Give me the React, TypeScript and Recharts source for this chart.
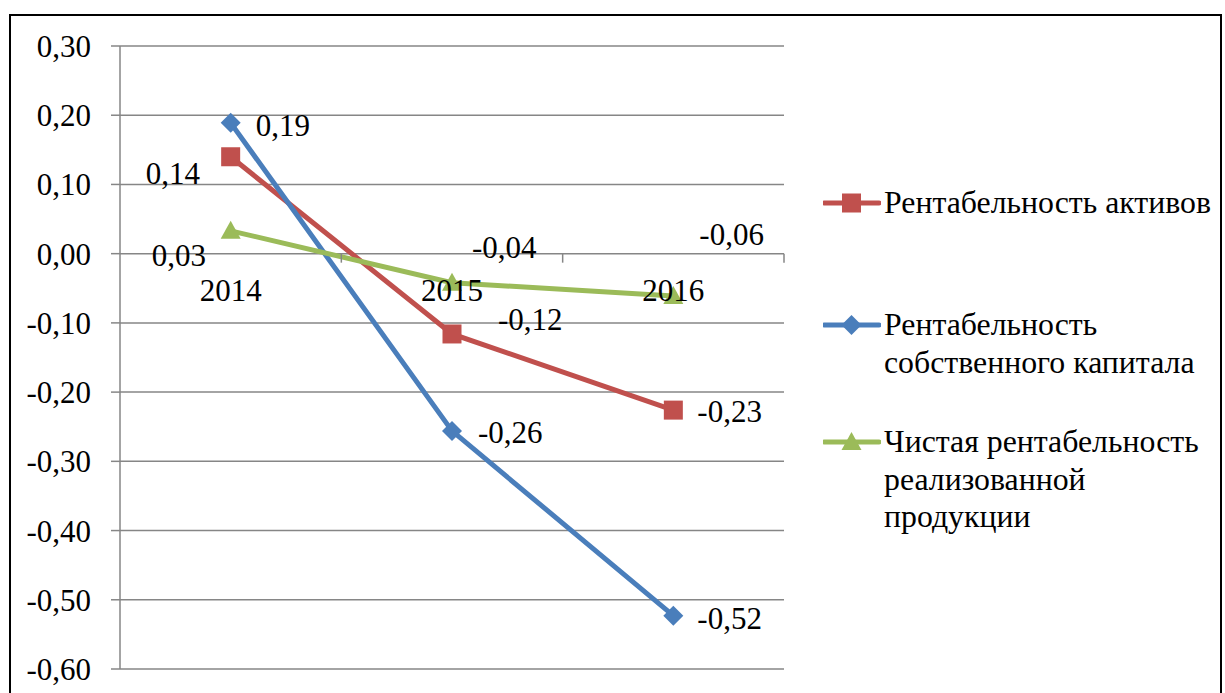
import { LineChart, Line, XAxis, YAxis, CartesianGrid, LabelList } from 'recharts';

const years = ['2014', '2015', '2016'];
const roa = [0.14, -0.116, -0.226];
const roe = [0.189, -0.256, -0.523];
const netMargin = [0.033, -0.042, -0.061];
const yTicks = [0.3, 0.2, 0.1, 0, -0.1, -0.2, -0.3, -0.4, -0.5, -0.6];
const seriesNames = [
  'Рентабельность активов',
  'Рентабельность\nсобственного капитала',
  'Чистая рентабельность\nреализованной\nпродукции',
];

const data = years.map((year, i) => ({ year, roa: roa[i], roe: roe[i], net: netMargin[i] }));

const FONT = '"Liberation Serif", serif';
const GRID = '#868686';
const RED = '#C0504D';
const BLUE = '#4A7EBB';
const GREEN = '#9BBB59';
const FS = 31;

const W = 1225;
const H = 693;
const TOP = 46;
const PLOT_BOTTOM = 669;
const LEFT = 120;
const RIGHT = 784;
const ZERO_Y = TOP + (PLOT_BOTTOM - TOP) * (0.3 / 0.9);
const BAND = (RIGHT - LEFT) / years.length;

const fmt = (v: number) => v.toFixed(2).replace('.', ',');

function Marker({ kind, cx, cy, color }: { kind: string; cx: number; cy: number; color: string }) {
  if (kind === 'square') return <rect x={cx - 9.5} y={cy - 9.5} width={19} height={19} fill={color} />;
  if (kind === 'diamond')
    return <polygon points={`${cx},${cy - 10} ${cx + 10},${cy} ${cx},${cy + 10} ${cx - 10},${cy}`} fill={color} />;
  return <polygon points={`${cx},${cy - 10} ${cx + 10},${cy + 8} ${cx - 10},${cy + 8}`} fill={color} />;
}

const dotFor = (kind: string, color: string) => (p: any) =>
  <Marker key={`${kind}-${p.index}`} kind={kind} cx={p.cx} cy={p.cy} color={color} />;

const labelFor = (shifts: number[][]) => (p: any) => {
  const [dx, dy] = shifts[p.index] || [0, 0];
  return (
    <text x={p.x + dx} y={p.y + dy} fontSize={FS} fontFamily={FONT} fill="#000" dominantBaseline="central">
      {fmt(Number(p.value))}
    </text>
  );
};

function CategoryTick(props: any) {
  const { x, payload } = props;
  return (
    <g>
      <line x1={x + BAND / 2} x2={x + BAND / 2} y1={ZERO_Y} y2={ZERO_Y + 9} stroke={GRID} strokeWidth={1.5} />
      <text x={x} y={ZERO_Y + 47} textAnchor="middle" fontSize={FS} fontFamily={FONT} fill="#000">
        {payload.value}
      </text>
    </g>
  );
}

const legendItems = [
  { name: seriesNames[0], color: RED, kind: 'square', top: 184 },
  { name: seriesNames[1], color: BLUE, kind: 'diamond', top: 306 },
  { name: seriesNames[2], color: GREEN, kind: 'triangle', top: 423 },
];

export default function App() {
  return (
    <div style={{ position: 'absolute', left: 0, top: 0, width: W, height: H, overflow: 'hidden', background: '#fff' }}>
      <div
        style={{
          position: 'absolute',
          left: 9,
          top: 14,
          width: 1213,
          height: 720,
          border: '2px solid #000',
          boxSizing: 'border-box',
        }}
      />
      <div style={{ position: 'absolute', left: 0, top: 0 }}>
        <LineChart width={W} height={H} data={data} margin={{ top: TOP, right: W - RIGHT, bottom: 0, left: 0 }}>
          <CartesianGrid vertical={false} stroke={GRID} strokeWidth={1.5} />
          <XAxis
            dataKey="year"
            height={H - PLOT_BOTTOM}
            padding={{ left: BAND / 2, right: BAND / 2 }}
            axisLine={false}
            tickLine={false}
            interval={0}
            tick={<CategoryTick />}
          />
          <YAxis
            width={LEFT}
            domain={[-0.6, 0.3]}
            ticks={yTicks}
            interval={0}
            tickFormatter={fmt}
            stroke={GRID}
            strokeWidth={1.5}
            tickSize={9}
            tickMargin={20}
            tick={{ fill: '#000', fontSize: FS, fontFamily: FONT }}
          />
          <Line type="linear" dataKey="roa" name={seriesNames[0]} stroke={RED} strokeWidth={5} dot={dotFor('square', RED)} isAnimationActive={false}>
            <LabelList dataKey="roa" content={labelFor([[-85, 17], [46, -14], [24, 1]])} />
          </Line>
          <Line type="linear" dataKey="roe" name={seriesNames[1]} stroke={BLUE} strokeWidth={5} dot={dotFor('diamond', BLUE)} isAnimationActive={false}>
            <LabelList dataKey="roe" content={labelFor([[25, 3], [26, 2], [24, 3]])} />
          </Line>
          <Line type="linear" dataKey="net" name={seriesNames[2]} stroke={GREEN} strokeWidth={5} dot={dotFor('triangle', GREEN)} isAnimationActive={false}>
            <LabelList dataKey="net" content={labelFor([[-79, 25], [20, -35], [26, -61]])} />
          </Line>
        </LineChart>
      </div>
      {legendItems.map((item) => (
        <div key={item.kind} style={{ position: 'absolute', left: 823, top: item.top, display: 'flex', alignItems: 'flex-start' }}>
          <svg width={58} height={38} style={{ flex: 'none' }}>
            <line x1={1} x2={56} y1={19} y2={19} stroke={item.color} strokeWidth={5} strokeLinecap="round" />
            <Marker kind={item.kind} cx={28.5} cy={19} color={item.color} />
          </svg>
          <div style={{ fontFamily: FONT, fontSize: 31.8, lineHeight: '37.5px', whiteSpace: 'pre-line', color: '#000', marginLeft: 3 }}>
            {item.name}
          </div>
        </div>
      ))}
    </div>
  );
}
